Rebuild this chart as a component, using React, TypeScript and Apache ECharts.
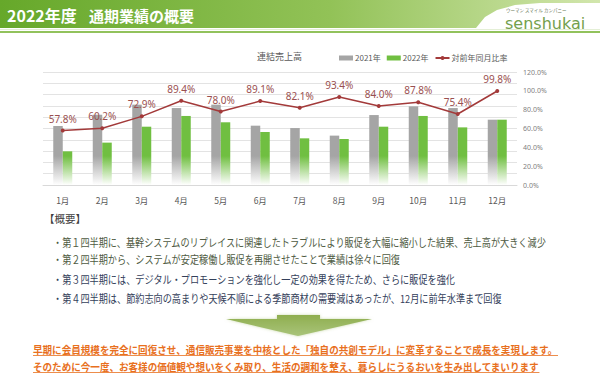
import React, { useEffect, useRef } from 'react';
import * as echarts from 'echarts';

const months = ['1月', '2月', '3月', '4月', '5月', '6月', '7月', '8月', '9月', '10月', '11月', '12月'];
const sales2021 = [5.22, 6.22, 7.11, 6.81, 7.11, 5.25, 5.04, 4.37, 6.19, 6.96, 6.81, 5.78];
const sales2022 = [2.98, 3.75, 5.16, 6.11, 5.55, 4.69, 4.13, 4.07, 5.16, 6.11, 5.1, 5.78];
const yoyRatio = [57.8, 60.2, 72.9, 89.4, 78.0, 89.1, 82.1, 93.4, 84.0, 87.8, 75.4, 99.8];
const seriesNames = ['2021年', '2022年', '対前年同月比率'];

const pageTitle = '2022年度';
const pageTitle2 = '通期業績の概要';
const chartTitle = '連結売上高';
const summaryHead = '【概要】';
const bulletLines = [
  '・第１四半期に、基幹システムのリプレイスに関連したトラブルにより販促を大幅に縮小した結果、売上高が大きく減少',
  '・第２四半期から、システムが安定稼働し販促を再開させたことで業績は徐々に回復',
  '・第３四半期には、デジタル・プロモーションを強化し一定の効果を得たため、さらに販促を強化',
  '・第４四半期は、節約志向の高まりや天候不順による季節商材の需要減はあったが、12月に前年水準まで回復',
];
const conclusionLines = [
  '早期に会員規模を完全に回復させ、通信販売事業を中核とした「独自の共創モデル」に変革することで成長を実現します。',
  'そのために今一度、お客様の価値観や想いをくみ取り、生活の調和を整え、暮らしにうるおいを生み出してまいります',
];

const CJK = '"Noto Sans CJK JP", "Noto Sans", sans-serif';

let measureCtx: CanvasRenderingContext2D | null = null;
function measure(text: string, size: number, weight: string) {
  if (!measureCtx) measureCtx = document.createElement('canvas').getContext('2d');
  if (!measureCtx) return text.length * size;
  measureCtx.font = `${weight} ${size}px ${CJK}`;
  return measureCtx.measureText(text).width;
}

export default function App() {
  const ref = useRef<HTMLDivElement>(null);
  useEffect(() => {
    if (!ref.current) return;
    const chart = echarts.init(ref.current, null, { renderer: 'svg' });

    const bulletSize = 11;
    const bulletScale = 494 / measure(bulletLines[0], bulletSize, 'normal');
    const bulletY = [242, 259, 279, 298];
    const bulletColors = ['#4e5a42', '#4e5a42', '#33405a', '#33405a'];

    const concSize = 10.5;
    const concScale = 525 / measure(conclusionLines[0], concSize, 'bold');
    const concY = [349, 366];

    const graphics: any[] = [
      {
        type: 'polygon',
        shape: {
          points: [[0, 0], [600, 0], [600, 3], [540, 3], [515, 5], [497, 10], [485, 17], [476, 28], [0, 28]],
        },
        style: {
          fill: new echarts.graphic.LinearGradient(0, 0, 1, 0, [
            { offset: 0, color: '#66a82a' },
            { offset: 0.55, color: '#92c257' },
            { offset: 1, color: '#d2e6ad' },
          ]),
        },
        silent: true,
      },
      {
        type: 'line',
        shape: { x1: 0, y1: 32, x2: 600, y2: 32 },
        style: { stroke: '#92c25c', lineWidth: 2 },
        silent: true,
      },
      {
        type: 'line',
        shape: { x1: 0, y1: 29.5, x2: 600, y2: 29.5 },
        style: { stroke: '#e4efd6', lineWidth: 1 },
        silent: true,
      },
      {
        type: 'text',
        x: 7,
        y: 15,
        style: { text: pageTitle, fill: '#ffffff', fontSize: 16, fontWeight: 'bold', fontFamily: CJK, verticalAlign: 'middle' },
      },
      {
        type: 'text',
        x: 89,
        y: 15,
        style: { text: pageTitle2, fill: '#ffffff', fontSize: 15, fontWeight: 'bold', fontFamily: CJK, verticalAlign: 'middle' },
      },
      {
        type: 'text',
        x: 506,
        y: 10,
        style: { text: 'ウーマン スマイル カンパニー', fill: '#6b7a5c', fontSize: 4.5, fontFamily: CJK, verticalAlign: 'middle' },
      },
      {
        type: 'text',
        x: 505,
        y: 23,
        style: { text: 'senshukai', fill: '#73a04c', fontSize: 16, fontFamily: '"DejaVu Sans", sans-serif', verticalAlign: 'middle' },
      },
      {
        type: 'text',
        x: 44,
        y: 218,
        style: { text: summaryHead, fill: '#404040', fontSize: 10.5, fontFamily: CJK, verticalAlign: 'middle' },
      },
      ...bulletLines.map((t, i) => ({
        type: 'text',
        x: 53,
        y: bulletY[i],
        scaleX: bulletScale,
        style: { text: t, fill: bulletColors[i], fontSize: bulletSize, fontFamily: CJK, verticalAlign: 'middle' },
      })),
      {
        type: 'polygon',
        shape: {
          points: [[277, 315], [320, 315], [320, 319], [372, 319], [298, 336], [226, 319], [277, 319]],
        },
        style: {
          fill: new echarts.graphic.LinearGradient(0, 0, 0, 1, [
            { offset: 0, color: '#8fae4f' },
            { offset: 1, color: '#a9c47a' },
          ]),
          shadowBlur: 3,
          shadowColor: 'rgba(150,180,90,0.5)',
        },
        silent: true,
      },
      ...conclusionLines.flatMap((t, i) => {
        const w = measure(t, concSize, 'bold') * concScale;
        return [
          {
            type: 'text',
            x: 33,
            y: concY[i],
            scaleX: concScale,
            style: { text: t, fill: '#e8701e', fontSize: concSize, fontWeight: 'bold', fontFamily: CJK, verticalAlign: 'middle' },
          },
          {
            type: 'line',
            shape: { x1: 33, y1: concY[i] + 6.5, x2: 33 + w, y2: concY[i] + 6.5 },
            style: { stroke: '#e8701e', lineWidth: 0.8 },
            silent: true,
          },
        ];
      }),
    ];

    const fade = (c: string) => ({
      type: 'linear',
      x: 0,
      y: 156,
      x2: 0,
      y2: 185,
      global: true,
      colorStops: [
        { offset: 0, color: c },
        { offset: 1, color: '#ffffff' },
      ],
    });

    chart.setOption({
      animation: false,
      backgroundColor: '#ffffff',
      title: {
        text: chartTitle,
        left: 252,
        top: 47,
        textStyle: { fontSize: 9, fontWeight: 'normal', color: '#595959', fontFamily: CJK },
      },
      legend: {
        left: 334,
        top: 49,
        itemWidth: 14,
        itemHeight: 5,
        itemGap: 6,
        textStyle: { fontSize: 8, color: '#595959', fontFamily: CJK, padding: [0, 0, 0, -3] },
        data: [
          { name: seriesNames[0], icon: 'rect', itemStyle: { color: '#a5a5a5' } },
          { name: seriesNames[1], icon: 'rect', itemStyle: { color: '#70bf41' } },
          { name: seriesNames[2] },
        ],
      },
      grid: { left: 43, right: 83, top: 72, bottom: 190, containLabel: false },
      xAxis: {
        type: 'category',
        data: months,
        axisLine: { lineStyle: { color: '#d9d9d9' } },
        axisTick: { show: false },
        axisLabel: { color: '#595959', fontSize: 8.5, margin: 11, fontFamily: CJK },
      },
      yAxis: [
        {
          type: 'value',
          min: 0,
          max: 10,
          interval: 1,
          axisLabel: { show: false },
          axisLine: { show: false },
          axisTick: { show: false },
          splitLine: { lineStyle: { color: '#e3e3e3', width: 1 } },
        },
        {
          type: 'value',
          min: 0,
          max: 120,
          interval: 20,
          position: 'right',
          axisLabel: {
            formatter: (v: number) => v.toFixed(1) + '%',
            color: '#7f7f7f',
            fontSize: 7,
            margin: 6,
            fontFamily: '"Noto Sans", sans-serif',
          },
          axisLine: { show: false },
          axisTick: { show: false },
          splitLine: { show: false },
        },
      ],
      series: [
        {
          name: seriesNames[0],
          type: 'bar',
          data: sales2021,
          barWidth: 9.5,
          barGap: '0%',
          itemStyle: { color: fade('#a5a5a5') },
        },
        {
          name: seriesNames[1],
          type: 'bar',
          data: sales2022,
          barWidth: 9.5,
          itemStyle: { color: fade('#70bf41') },
        },
        {
          name: seriesNames[2],
          type: 'line',
          yAxisIndex: 1,
          data: yoyRatio,
          symbol: 'circle',
          symbolSize: 4,
          lineStyle: { color: '#a33a3a', width: 1.5 },
          itemStyle: { color: '#a33a3a' },
          label: {
            show: true,
            position: 'top',
            distance: 5,
            formatter: (p: any) => Number(p.value).toFixed(1) + '%',
            color: '#9a5050',
            fontSize: 10,
            fontFamily: '"Noto Sans", sans-serif',
          },
          z: 5,
        },
      ],
      graphic: graphics,
    });

    return () => chart.dispose();
  }, []);

  return (
    <div
      ref={ref}
      style={{ position: 'fixed', left: 0, top: 0, width: 600, height: 375, background: '#fff' }}
    />
  );
}
